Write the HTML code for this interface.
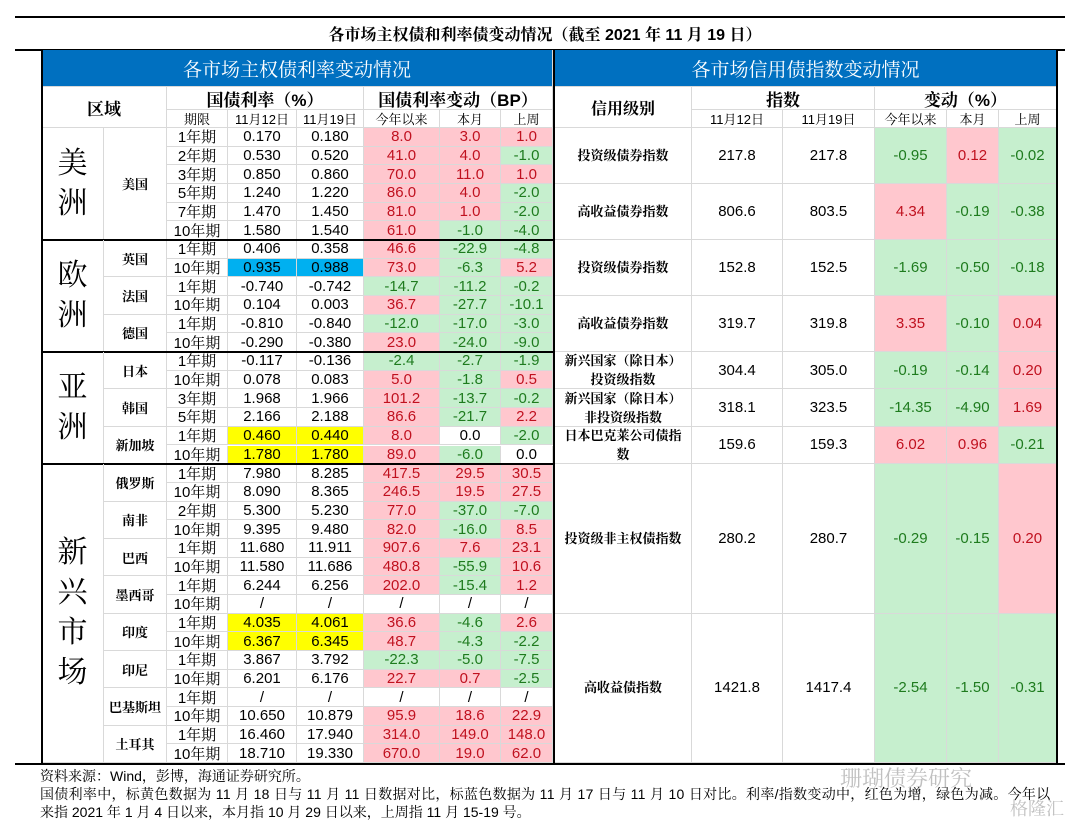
<!DOCTYPE html>
<html><head><meta charset="utf-8">
<style>
body{margin:0;width:1080px;height:830px;background:#fff;position:relative;overflow:hidden;font-family:"Liberation Sans","Noto Sans CJK SC",sans-serif;}
.c{position:absolute;box-sizing:border-box;display:flex;align-items:center;justify-content:center;font-size:14px;color:#000;white-space:nowrap;}
.cj{font-family:"Liberation Sans","Noto Serif CJK SC",serif;}
.hl{position:absolute;background:#000;}
.g{border-right:1px solid #d9d9d9;border-bottom:1px solid #d9d9d9;}
</style></head><body>
<div class="hl" style="left:15px;top:16px;width:1050px;height:2px"></div>
<div class="c cj" style="left:15px;top:22px;width:1060px;height:22px;font-size:16px;font-weight:bold">各市场主权债和利率债变动情况（截至 2021 年 11 月 19 日）</div>
<div class="hl" style="left:15px;top:49px;width:1050px;height:2px"></div>
<div id="root"></div>
<div class="hl" style="left:15px;top:763px;width:1050px;height:2px"></div>
<div class="c cj" style="left:40px;top:767px;height:18px;font-size:14px;justify-content:flex-start">资料来源：Wind，彭博，海通证券研究所。</div>
<div class="c cj" style="left:40px;top:785px;height:18px;font-size:14px;letter-spacing:0.3px;justify-content:flex-start">国债利率中，标黄色数据为 11 月 18 日与 11 月 11 日数据对比，标蓝色数据为 11 月 17 日与 11 月 10 日对比。利率/指数变动中，红色为增，绿色为减。今年以</div>
<div class="c cj" style="left:40px;top:803px;height:18px;font-size:14px;justify-content:flex-start">来指 2021 年 1 月 4 日以来，本月指 10 月 29 日以来，上周指 11 月 15-19 号。</div>
<div class="c cj" style="left:840px;top:762px;height:30px;font-size:22px;color:rgba(150,150,150,0.6)">珊瑚债券研究</div>
<div class="c cj" style="left:1010px;top:795px;height:26px;font-size:18px;color:rgba(150,150,150,0.6)">格隆汇</div>
<script>
const tenors=["1年期","2年期","3年期","5年期","7年期","10年期","1年期","10年期","1年期","10年期","1年期","10年期","1年期","10年期","3年期","5年期","1年期","10年期","1年期","10年期","2年期","10年期","1年期","10年期","1年期","10年期","1年期","10年期","1年期","10年期","1年期","10年期","1年期","10年期"];
const rateNov12=["0.170","0.530","0.850","1.240","1.470","1.580","0.406","0.935","-0.740","0.104","-0.810","-0.290","-0.117","0.078","1.968","2.166","0.460","1.780","7.980","8.090","5.300","9.395","11.680","11.580","6.244","/","4.035","6.367","3.867","6.201","/","10.650","16.460","18.710"];
const rateNov19=["0.180","0.520","0.860","1.220","1.450","1.540","0.358","0.988","-0.742","0.003","-0.840","-0.380","-0.136","0.083","1.966","2.188","0.440","1.780","8.285","8.365","5.230","9.480","11.911","11.686","6.256","/","4.061","6.345","3.792","6.176","/","10.879","17.940","19.330"];
const chgYtd=["8.0","41.0","70.0","86.0","81.0","61.0","46.6","73.0","-14.7","36.7","-12.0","23.0","-2.4","5.0","101.2","86.6","8.0","89.0","417.5","246.5","77.0","82.0","907.6","480.8","202.0","/","36.6","48.7","-22.3","22.7","/","95.9","314.0","670.0"];
const chgMonth=["3.0","4.0","11.0","4.0","1.0","-1.0","-22.9","-6.3","-11.2","-27.7","-17.0","-24.0","-2.7","-1.8","-13.7","-21.7","0.0","-6.0","29.5","19.5","-37.0","-16.0","7.6","-55.9","-15.4","/","-4.6","-4.3","-5.0","0.7","/","18.6","149.0","19.0"];
const chgWeek=["1.0","-1.0","1.0","-2.0","-2.0","-4.0","-4.8","5.2","-0.2","-10.1","-3.0","-9.0","-1.9","0.5","-0.2","2.2","-2.0","0.0","30.5","27.5","-7.0","8.5","23.1","10.6","1.2","/","2.6","-2.2","-7.5","-2.5","/","22.9","148.0","62.0"];
const yellowRows=[16,17,26,27];
const blueRows=[7];
const countries=["美国","英国","法国","德国","日本","韩国","新加坡","俄罗斯","南非","巴西","墨西哥","印度","印尼","巴基斯坦","土耳其"];
const countrySpan=[6,2,2,2,2,2,2,2,2,2,2,2,2,2,2];
const regions=["美洲","欧洲","亚洲","新兴市场"];
const regionSpan=[6,6,6,16];
const idxNames=["投资级债券指数","高收益债券指数","投资级债券指数","高收益债券指数","新兴国家（除日本）投资级指数","新兴国家（除日本）非投资级指数","日本巴克莱公司债指数","投资级非主权债指数","高收益债指数"];
const idxSpan=[3,3,3,3,2,2,2,8,8];
const idxNov12=["217.8","806.6","152.8","319.7","304.4","318.1","159.6","280.2","1421.8"];
const idxNov19=["217.8","803.5","152.5","319.8","305.0","323.5","159.3","280.7","1417.4"];
const idxYtd=["-0.95","4.34","-1.69","3.35","-0.19","-14.35","6.02","-0.29","-2.54"];
const idxMonth=["0.12","-0.19","-0.50","-0.10","-0.14","-4.90","0.96","-0.15","-1.50"];
const idxWeek=["-0.02","-0.38","-0.18","0.04","0.20","1.69","-0.21","0.20","-0.31"];

const root=document.getElementById('root');
const T0=128,RH=(763-128)/34;
function cell(x,y,w,h,txt,name,st){const d=document.createElement('div');d.className='c g'+(st&&st.cj?' cj':'');d.style.left=x+'px';d.style.top=y+'px';d.style.width=w+'px';d.style.height=h+'px';d.textContent=txt;


if(st){if(st.bg)d.style.background=st.bg;if(st.col)d.style.color=st.col;if(st.fs)d.style.fontSize=st.fs+'px';if(st.fw)d.style.fontWeight=st.fw;if(st.wrap){d.style.whiteSpace='normal';d.style.textAlign='center';d.style.lineHeight='19px';d.style.padding='0 6px';}}
root.appendChild(d);return d;}
function sgn(v){if(v==='/'||parseFloat(v)===0)return{};return parseFloat(v)>0?{bg:'#ffc7ce',col:'#c0111f'}:{bg:'#c6efce',col:'#1e7b1e'};}
cell(42,50,511,37,"各市场主权债利率变动情况","left-header-banner",{bg:'#0070c0',col:'#fff',fs:19,cj:1});
cell(555,50,502,37,"各市场信用债指数变动情况","right-header-banner",{bg:'#0070c0',col:'#fff',fs:19,cj:1});
cell(42,87,125,41,"区域","region-header",{fs:17,fw:'bold',cj:1});
cell(167,87,197,23,"国债利率（%）","yield-header",{fs:17,fw:'bold',cj:1});
cell(364,87,189,23,"国债利率变动（BP）","yield-change-header",{fs:17,fw:'bold',cj:1});
const lc=[167,228,297,364,440,501,553];
["期限","11月12日","11月19日","今年以来","本月","上周"].forEach((t,i)=>cell(lc[i],110,lc[i+1]-lc[i],18,t,'left-subheader',{fs:13,cj:1}));
cell(555,87,137,41,"信用级别","rating-header",{fs:16,fw:'bold',cj:1});
cell(692,87,183,23,"指数","index-header",{fs:17,fw:'bold',cj:1});
cell(875,87,182,23,"变动（%）","index-change-header",{fs:17,fw:'bold',cj:1});
const rc=[692,783,875,947,999,1057];
["11月12日","11月19日","今年以来","本月","上周"].forEach((t,i)=>cell(rc[i],110,rc[i+1]-rc[i],18,t,'right-subheader',{fs:13,cj:1}));
for(let i=0;i<tenors.length;i++){const y=T0+i*RH;
 cell(lc[0],y,lc[1]-lc[0],RH,tenors[i],'tenor-cell',{cj:1,fs:15});
 let hb=yellowRows.includes(i)?'#ffff00':blueRows.includes(i)?'#00b0f0':null;
 cell(lc[1],y,lc[2]-lc[1],RH,rateNov12[i],'rate-nov12',{bg:hb,fs:15});
 cell(lc[2],y,lc[3]-lc[2],RH,rateNov19[i],'rate-nov19',{bg:hb,fs:15});
 cell(lc[3],y,lc[4]-lc[3],RH,chgYtd[i],'change-ytd',Object.assign({fs:15},sgn(chgYtd[i])));
 cell(lc[4],y,lc[5]-lc[4],RH,chgMonth[i],'change-month',Object.assign({fs:15},sgn(chgMonth[i])));
 cell(lc[5],y,lc[6]-lc[5],RH,chgWeek[i],'change-week',Object.assign({fs:15},sgn(chgWeek[i])));}
let r=0;countries.forEach((c,i)=>{cell(104,T0+r*RH,63,countrySpan[i]*RH,c,'country-label',{fs:13,fw:'bold',cj:1});r+=countrySpan[i];});
r=0;regions.forEach((c,i)=>{const d=cell(42,T0+r*RH,62,regionSpan[i]*RH,'','region-label',{fs:30,cj:1});d.style.flexDirection='column';d.style.lineHeight='40px';d.innerHTML=c.split('').join('<br>');r+=regionSpan[i];
 if(i<regions.length-1){const l=document.createElement('div');l.className='hl';l.style.cssText='left:42px;width:512px;height:2px;top:'+(T0+r*RH-1)+'px';
root.appendChild(l);}});
r=0;idxNames.forEach((n,i)=>{const y=T0+r*RH,h=idxSpan[i]*RH;
 cell(555,y,137,h,n,'index-name',{fs:13,fw:'bold',cj:1,wrap:1});
 cell(rc[0],y,rc[1]-rc[0],h,idxNov12[i],'index-nov12',{fs:15});
 cell(rc[1],y,rc[2]-rc[1],h,idxNov19[i],'index-nov19',{fs:15});
 cell(rc[2],y,rc[3]-rc[2],h,idxYtd[i],'index-change-ytd',Object.assign({fs:15},sgn(idxYtd[i])));
 cell(rc[3],y,rc[4]-rc[3],h,idxMonth[i],'index-change-month',Object.assign({fs:15},sgn(idxMonth[i])));
 cell(rc[4],y,rc[5]-rc[4],h,idxWeek[i],'index-change-week',Object.assign({fs:15},sgn(idxWeek[i])));r+=idxSpan[i];});
[[41,50,2,713],[553,50,2,713],[1056,50,2,713]].forEach(a=>{const l=document.createElement('div');l.className='hl';l.style.cssText=`left:${a[0]}px;top:${a[1]}px;width:${a[2]}px;height:${a[3]}px`;

root.appendChild(l);});
</script>
</body></html>
